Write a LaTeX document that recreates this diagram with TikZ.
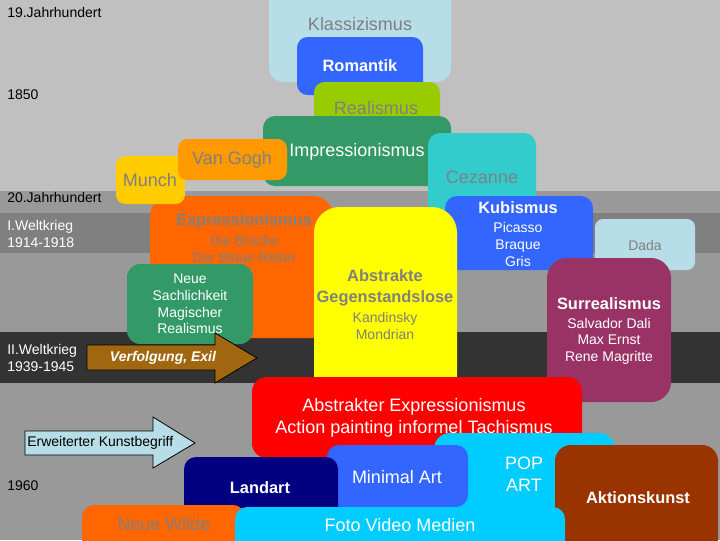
\documentclass[tikz,border=0pt]{standalone}
\usepackage{fontspec}
\setmainfont{Liberation Sans}
\definecolor{bgTop}{RGB}{192,192,192}
\definecolor{bgMid}{RGB}{153,153,153}
\definecolor{bgWar}{RGB}{128,128,128}
\definecolor{bgDark}{RGB}{51,51,51}
\definecolor{cPale}{RGB}{183,222,232}
\definecolor{cRoyal}{RGB}{51,102,255}
\definecolor{cLime}{RGB}{153,204,0}
\definecolor{cSea}{RGB}{51,153,102}
\definecolor{cTeal}{RGB}{51,204,204}
\definecolor{cGold}{RGB}{255,204,0}
\definecolor{cAmber}{RGB}{255,153,0}
\definecolor{cTang}{RGB}{255,102,0}
\definecolor{cYellow}{RGB}{255,255,0}
\definecolor{cPlum}{RGB}{153,51,102}
\definecolor{cRed}{RGB}{255,0,0}
\definecolor{cSky}{RGB}{0,204,255}
\definecolor{cMarine}{RGB}{0,0,128}
\definecolor{cRust}{RGB}{153,51,0}
\definecolor{cOchre}{RGB}{160,102,16}
\definecolor{txtGray}{RGB}{128,128,128}
\tikzset{
  ttl/.style={font=\fontsize{13.5}{16.5}\selectfont, inner sep=0pt},
  hd/.style={font=\bfseries\fontsize{12.3}{15}\selectfont, inner sep=0pt},
  nm/.style={font=\fontsize{10.5}{12.75}\selectfont, inner sep=0pt},
  yr/.style={font=\fontsize{10.5}{12.5}\selectfont, inner sep=0pt, anchor=west, align=left},
}

\begin{document}
\begin{tikzpicture}[x=0.75pt,y=-0.75pt]
      \clip (0,0) rectangle (720,540);
      \fill[bgMid](0,0) rectangle (720,540);
      \fill[bgTop](0,0) rectangle (720,191);
      \fill[bgWar](0,213) rectangle (720,253);
      \fill[bgDark](0,332) rectangle (720,383);
      % boxes, back to front
      \foreach \col/\rad/\xa/\ya/\xb/\yb in{cPale/11/269/-40/451/82, cRoyal/8/297/37/423/95,
          cLime/8/314/82/440/134, cSea/9/263/116/451/186, cTeal/9/428/133/536/225,
          cTang/15/150/196/333/338, cGold/7/116/156/185/204, cAmber/7/178/139/287/180,
          cSea/10/127/264/253/344, cRoyal/9/445/196/593/270, cYellow/19/314/207/457/400,
          cPale/6/595/219/695/270, cPlum/15/547/258/671/402, cRed/11/252/377/582/458,
          cSky/12/434/433/615/520, cRust/12/555/445/718/560, cRoyal/9/327/445/468/507,
          cMarine/9/184/457/338/520, cTang/9/82/505/245/560, cSky/9/235/507/565/560}{
        \fill[\col, rounded corners=\rad pt](\xa,\ya) rectangle (\xb,\yb);
      }
      \coordinate(V1)at(87,345);\coordinate(V2)at(215,345);\coordinate(V3)at(215,333);
      \coordinate(V4)at(257,358);\coordinate(V5)at(215,383);\coordinate(V6)at(215,370);\coordinate(V7)at(87,370);
      \draw[fill=cOchre, line width=0.6pt](V1)--(V2)--(V3)--(V4)--(V5)--(V6)--(V7)--cycle;
      \coordinate(E1)at(25,431);\coordinate(E2)at(153,431);\coordinate(E3)at(153,417);
      \coordinate(E4)at(195,443);\coordinate(E5)at(153,468);\coordinate(E6)at(153,455);\coordinate(E7)at(25,455);
      \draw[fill=cPale, line width=0.6pt](E1)--(E2)--(E3)--(E4)--(E5)--(E6)--(E7)--cycle;
      % time axis
      \node[yr] (jh19) at (7,12) {19.Jahrhundert};
      \node[yr] (y1850) at (7,95) {1850};
      \node[yr] (jh20) at (7,197) {20.Jahrhundert};
      \node[yr, white] (wk1) at (7,234) {I.Weltkrieg\\1914-1918};
      \node[yr, white] (wk2) at (7,358) {II.Weltkrieg\\1939-1945};
      \node[yr] (y1960) at (7,486) {1960};
      % styles
      \node[ttl, txtGray] (klass) at (360,24) {Klassizismus};
      \node[hd, white] (roman) at (360,66) {Romantik};
      \node[ttl, txtGray] (real) at (376,108) {Realismus};
      \node[ttl, white] (impr) at (357,152) {Impressionismus};
      \node[ttl, txtGray] (cez) at (482,177) {Cezanne};
      \node[ttl, txtGray] (munch) at (150,180) {Munch};
      \node[ttl, txtGray] (gogh) at (232,160) {Van Gogh};
      \node[hd, txtGray] (expr) at (244,221) {Expressionismus};
      \node[nm, txtGray, align=center] (exprgr) at (244,248.5) {Die Brücke\\Der Blaue Reiter};
      \node[nm, white, align=center, font=\fontsize{10.5}{12.5}\selectfont] (sach) at (190,304) {Neue\\Sachlichkeit\\Magischer\\Realismus};
      \node[hd, white] (kub) at (518,208) {Kubismus};
      \node[nm, white, align=center] (kubnm) at (518,244) {Picasso\\Braque\\Gris};
      \node[hd, txtGray, align=center, font=\bfseries\fontsize{12.3}{15.75}\selectfont] (abstr) at (385,287.5) {Abstrakte\\Gegenstandslose};
      \node[nm, txtGray, align=center] (abstrnm) at (385,325.5) {Kandinsky\\Mondrian};
      \node[nm, txtGray] (dada) at (645,245) {Dada};
      \node[hd, white] (surr) at (609,304) {Surrealismus};
      \node[nm, white, align=center, font=\fontsize{10.5}{12.4}\selectfont] (surrnm) at (609,341) {Salvador Dali\\Max Ernst\\Rene Magritte};
      \node[font=\bfseries\itshape\fontsize{10.5}{12.5}\selectfont, white, inner sep=0pt] (verf) at (163,358) {Verfolgung, Exil};
      \node[ttl, white, align=center] (abex) at (414,418) {Abstrakter Expressionismus\\Action painting informel Tachismus};
      \node[nm, anchor=west] (kunst) at (27,443) {Erweiterter Kunstbegriff};
      \node[ttl, white, align=center] (pop) at (524,474) {POP\\ART};
      \node[ttl, white] (minimal) at (397,477) {Minimal Art};
      \node[hd, white] (land) at (260,488) {Landart};
      \node[hd, white] (aktion) at (638,498) {Aktionskunst};
      \node[ttl, txtGray] (wilde) at (164,524) {Neue Wilde};
      \node[ttl, white] (foto) at (400,525) {Foto Video Medien};
    \end{tikzpicture}
\end{document}
